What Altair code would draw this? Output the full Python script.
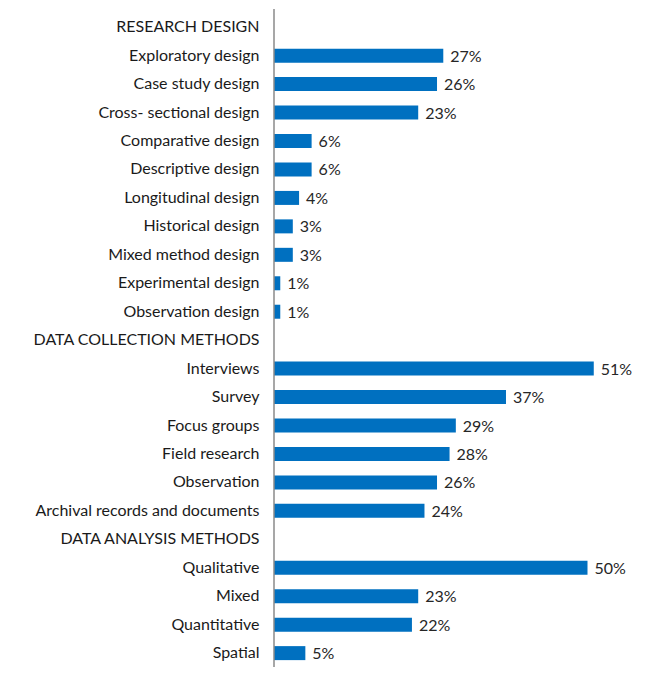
import altair as alt
import pandas as pd

categories = [
    "RESEARCH DESIGN",
    "Exploratory design", "Case study design", "Cross- sectional design",
    "Comparative design", "Descriptive design ", "Longitudinal design",
    "Historical design", "Mixed method design", "Experimental design",
    "Observation design",
    "DATA COLLECTION METHODS",
    "Interviews", "Survey", "Focus groups", "Field research", "Observation",
    "Archival records and documents ",
    "DATA ANALYSIS METHODS",
    "Qualitative", "Mixed", "Quantitative", "Spatial",
]
values = [
    None,
    27, 26, 23, 6, 6, 4, 3, 3, 1, 1,
    None,
    51, 37, 29, 28, 26, 24,
    None,
    50, 23, 22, 5,
]

df = pd.DataFrame({"cat": categories, "val": values})
df["label"] = df["val"].apply(lambda v: "" if pd.isna(v) else f"{int(v)}%")

STEP = 28.45
H = STEP * len(categories)
W = 374
FONT = "Lato"

y_enc = alt.Y("cat:N", sort=categories, title=None,
              scale=alt.Scale(paddingInner=0.5, paddingOuter=0.25),
              axis=alt.Axis(domain=False, ticks=False, grid=False, labelFont=FONT,
                            labelFontSize=16, labelColor="#1a1a1a",
                            labelPadding=15, labelLimit=300))
x_enc = alt.X("val:Q", scale=alt.Scale(domain=[0, W / 6.27]), axis=None)

bars = alt.Chart(df).mark_bar(color="#0070C0", size=14).encode(y=y_enc, x=x_enc)
text = alt.Chart(df).mark_text(align="left", baseline="middle", dx=7, dy=1,
                               font=FONT, fontSize=16, color="#262626").encode(
    y=alt.Y("cat:N", sort=categories), x=x_enc, text="label:N")
line_df = pd.DataFrame({"x": [0]})
axis_line = alt.Chart(line_df).mark_rule(color="#8a8a8a", strokeWidth=1.5).encode(
    x=alt.value(0), x2=alt.value(0), y=alt.value(-4), y2=alt.value(H + 30))

chart = alt.layer(bars, text, axis_line).properties(
    width=W, height=H,
    background="white",
    autosize=alt.AutoSizeParams(type="none"),
    padding={"left": 274, "top": 13, "right": 0, "bottom": 0},
).configure_view(strokeWidth=0, stroke="transparent")

chart.save("out.html", embed_options={"renderer": "svg", "actions": False})
